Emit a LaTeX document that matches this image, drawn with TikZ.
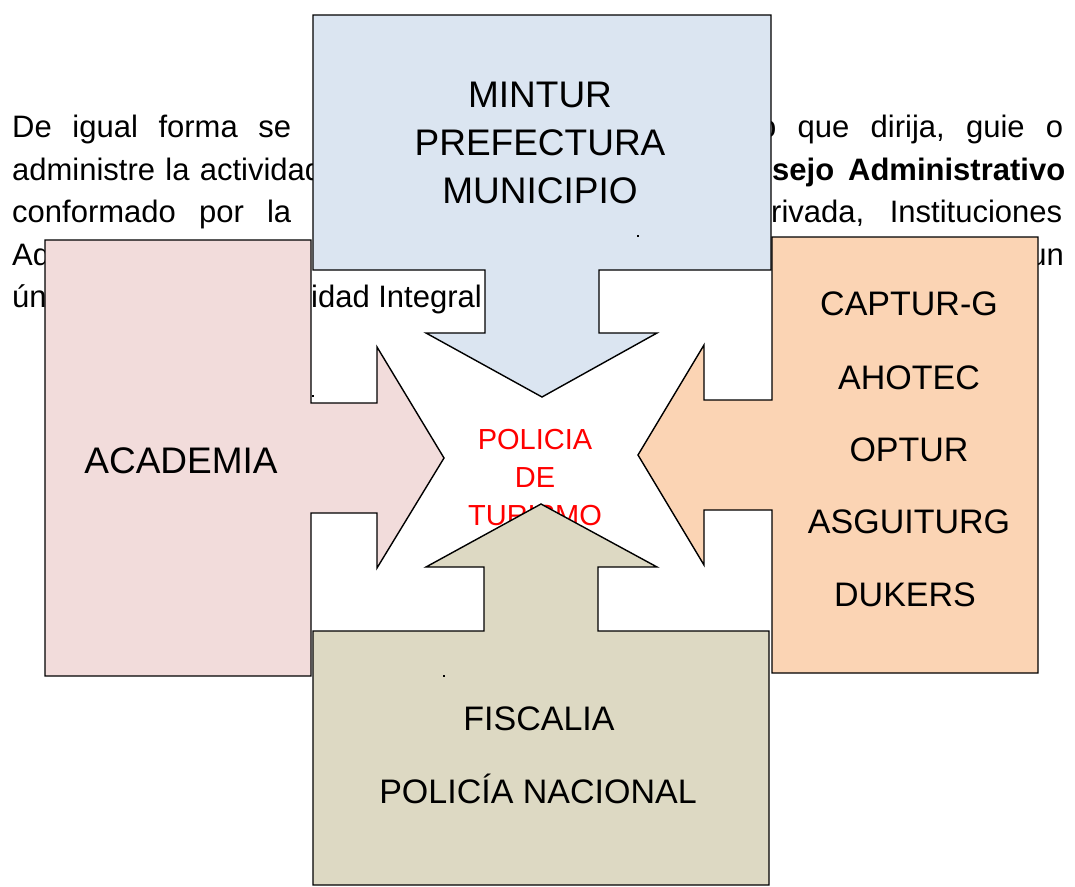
\documentclass[tikz,border=0pt]{standalone}
\usepackage{fontspec}
\setmainfont{Liberation Sans}
\definecolor{pinkfill}{HTML}{F2DCDB}
\definecolor{bluefill}{HTML}{DBE5F1}
\definecolor{orangefill}{HTML}{FBD4B4}
\definecolor{tanfill}{HTML}{DDD9C3}
\definecolor{redtext}{HTML}{FF0000}
\begin{document}
\begin{tikzpicture}[x=1pt,y=-1pt,
  para/.style={anchor=base west, inner sep=0pt, font=\fontsize{31}{37}\selectfont},
  paraR/.style={anchor=base east, inner sep=0pt, font=\fontsize{31}{37}\selectfont},
  callout/.style={draw=black, line width=1.4pt, line join=miter},
  bigA/.style={anchor=base, inner sep=0pt, font=\fontsize{37}{44}\selectfont},
  bigB/.style={anchor=base, inner sep=0pt, font=\fontsize{34}{41}\selectfont},
  redlbl/.style={anchor=base, inner sep=0pt, text=redtext, font=\fontsize{29}{35}\selectfont},
  speck/.style={fill=black, inner sep=0pt, minimum size=2pt, shape=rectangle}]
\useasboundingbox (0,0) rectangle (1075,886);
\fill[white] (0,0) rectangle (1075,886);

% background paragraph fragments
\node[para] (l1a) at (12,137.5) {\hbox to 279pt{De\hfil igual\hfil forma\hfil se}};
\node[para] (l1b) at (759,137.5) {\hbox to 304pt{o\hfil que\hfil dirija,\hfil guie\hfil o}};
\node[para] (l2a) at (12,180) {\hbox to 310pt{administre\hfil la\hfil actividad}};
\node[para] (l2b) at (772,180) {\hbox to 293pt{\bfseries sejo\hfil Administrativo}};
\node[para] (l3a) at (12,222.5) {\hbox to 279pt{conformado\hfil por\hfil la}};
\node[para] (l3b) at (771,222.5) {\hbox to 291pt{rivada,\hfil Instituciones}};
\node[para] (l4a) at (12,265) {Ad};
\node[paraR] (l4b) at (1064,265) {un};
\node[para] (l5a) at (12,307.5) {ún};
\node[paraR] (l5b) at (482,307.5) {idad Integral};

% centre label (behind the shapes)
\node[redlbl] (pol1) at (535,449) {POLICIA};
\node[redlbl] (pol2) at (535,487) {DE};
\node[redlbl] (pol3) at (535,525) {TURISMO};

% callout shapes
\draw[callout, fill=pinkfill] (45,240) -- (311,240) -- (311,403) -- (377,403) -- (377,347)
  -- (444,458) -- (377,568) -- (377,513) -- (311,513) -- (311,676) -- (45,676) -- cycle;
\draw[callout, fill=bluefill] (313,15) -- (771,15) -- (771,270) -- (599,270) -- (599,333)
  -- (657,333) -- (542,397) -- (426,333) -- (485,333) -- (485,270) -- (313,270) -- cycle;
\draw[callout, fill=orangefill] (772,237) -- (1038,237) -- (1038,673) -- (772,673) -- (772,510)
  -- (704,510) -- (704,565) -- (638,455) -- (704,345) -- (704,400) -- (772,400) -- cycle;
\draw[callout, fill=tanfill] (313,631) -- (484,631) -- (484,567) -- (426,567) -- (541,504)
  -- (657,567) -- (598,567) -- (598,631) -- (769,631) -- (769,885) -- (313,885) -- cycle;

% texts in the shapes
\node[bigA] (t1) at (540,107) {MINTUR};
\node[bigA] (t2) at (540,155) {PREFECTURA};
\node[bigA] (t3) at (540,203) {MUNICIPIO};
\node[bigA] (ac) at (181,473) {ACADEMIA};
\node[bigB] (r1) at (909,315) {CAPTUR-G};
\node[bigB] (r2) at (909,389) {AHOTEC};
\node[bigB] (r3) at (909,461) {OPTUR};
\node[bigB] (r4) at (909,533) {ASGUITURG};
\node[bigB] (r5) at (905,606) {DUKERS};
\node[bigB] (b1) at (539,730) {FISCALIA};
\node[bigB] (b2) at (538,803) {POLICÍA NACIONAL};

% tiny specks
\node[speck] (s1) at (638,236) {};
\node[speck] (s2) at (313,396) {};
\node[speck] (s3) at (444,676) {};
\end{tikzpicture}
\end{document}
